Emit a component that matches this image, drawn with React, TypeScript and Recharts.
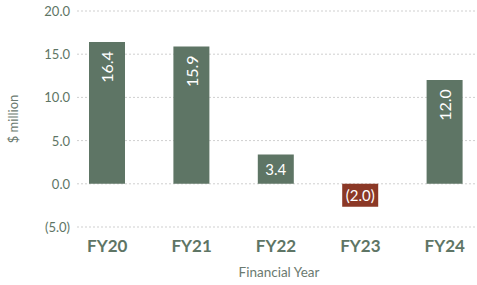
import React from "react";
import { BarChart, Bar, XAxis, YAxis, CartesianGrid, Cell, LabelList, Label } from "recharts";

const categories = ["FY20", "FY21", "FY22", "FY23", "FY24"];
const values = [16.4, 15.9, 3.4, -2.0, 12.0];
const yTicks = [-5, 0, 5, 10, 15, 20];

const GREEN = "#5e7565";
const RED = "#8b3826";
const FONT = "Lato, sans-serif";

const fmt = (v: number) => (v < 0 ? `(${Math.abs(v).toFixed(1)})` : v.toFixed(1));

const BarLabel = (props: any) => {
  const { x, y, width, height, value } = props;
  const cx = x + width / 2;
  const h = Math.abs(height);
  const top = Math.min(y, y + height);
  if (h > 40) {
    const ty = top + 9;
    return (
      <text
        x={cx}
        y={ty}
        transform={`rotate(-90, ${cx}, ${ty})`}
        textAnchor="end"
        dominantBaseline="central"
        fill="#fff"
        fontSize={16}
        fontFamily={FONT}
      >
        {fmt(value)}
      </text>
    );
  }
  return (
    <text
      x={cx}
      y={top + h / 2}
      textAnchor="middle"
      dominantBaseline="central"
      fill="#fff"
      fontSize={15}
      fontFamily={FONT}
    >
      {fmt(value)}
    </text>
  );
};

const XTick = (props: any) => {
  const { x, y, payload } = props;
  return (
    <text x={x} y={y + 25} textAnchor="middle" fill={GREEN} fontSize={17} fontWeight={700} fontFamily={FONT}>
      {payload.value}
    </text>
  );
};

const YTick = (props: any) => {
  const { x, y, payload } = props;
  return (
    <text x={x + 5} y={y} textAnchor="end" dominantBaseline="central" fill={GREEN} fontSize={13} fontFamily={FONT}>
      {fmt(payload.value)}
    </text>
  );
};

export default function App() {
  const data = categories.map((name, i) => ({ name, value: values[i] }));
  return (
    <div style={{ position: "absolute", left: 0, top: 0, width: 477, height: 285, overflow: "hidden" }}>
      <BarChart width={487} height={285} data={data} margin={{ top: 11, right: 0, left: 8, bottom: 0 }}>
        <CartesianGrid vertical={false} x={77} width={410} stroke="#cfcfcf" strokeDasharray="2 2" />
        <XAxis
          dataKey="name"
          axisLine={false}
          tickLine={false}
          tickSize={0}
          tickMargin={0}
          height={58}
          tick={<XTick />}
          interval={0}
        >
          <Label
            content={({ viewBox }: any) => (
              <text
                x={viewBox.x + viewBox.width / 2 + 3}
                y={viewBox.y + 50}
                textAnchor="middle"
                fill="#6b7a70"
                fontSize={13.5}
                fontFamily={FONT}
              >
                Financial Year
              </text>
            )}
          />
        </XAxis>
        <YAxis
          type="number"
          domain={[-5, 20]}
          ticks={yTicks}
          width={57}
          axisLine={false}
          tickLine={false}
          tickSize={0}
          tickMargin={0}
          tick={<YTick />}
          interval={0}
        >
          <Label
            content={({ viewBox }: any) => {
              const cx = viewBox.x + 5;
              const cy = viewBox.y + viewBox.height / 2;
              return (
                <text
                  x={cx}
                  y={cy}
                  transform={`rotate(-90, ${cx}, ${cy})`}
                  textAnchor="middle"
                  dominantBaseline="central"
                  fill="#6b7a70"
                  fontSize={13}
                  fontFamily={FONT}
                >
                  $ million
                </text>
              );
            }}
          />
        </YAxis>
        <Bar dataKey="value" barSize={36} minPointSize={23} isAnimationActive={false}>
          {data.map((d) => (
            <Cell key={d.name} fill={d.value < 0 ? RED : GREEN} />
          ))}
          <LabelList dataKey="value" content={<BarLabel />} />
        </Bar>
      </BarChart>
    </div>
  );
}
